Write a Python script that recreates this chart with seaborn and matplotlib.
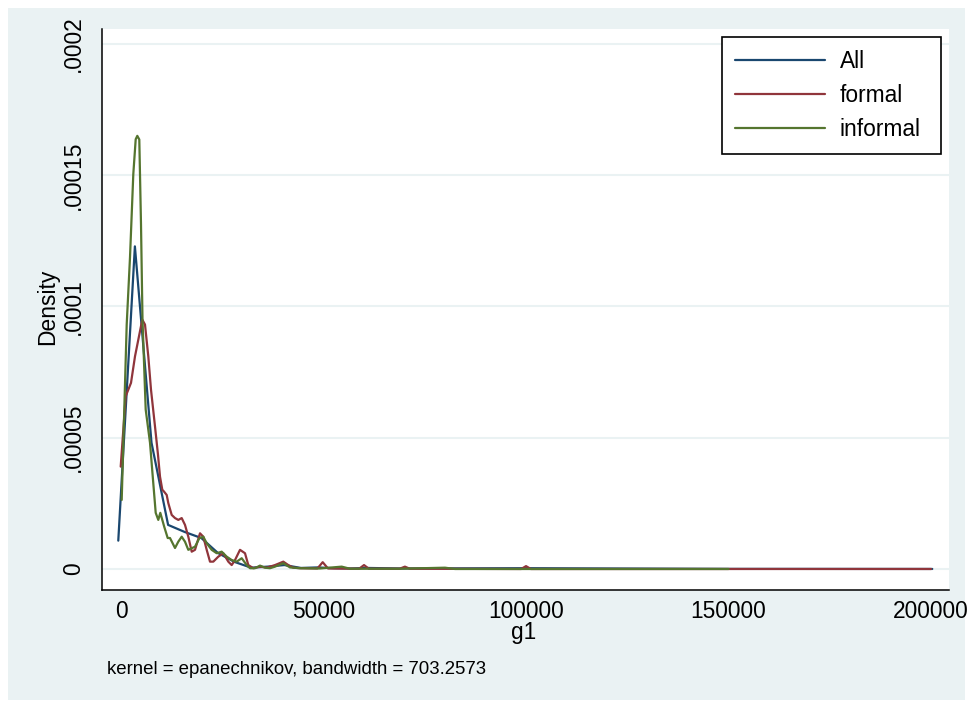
import matplotlib
matplotlib.use("Agg")
import matplotlib.pyplot as plt
from matplotlib.patches import Rectangle
import pandas as pd
import seaborn as sns

# ---- data ----
series_names = ["All", "formal", "informal"]

all_x = [-670, 3430, 7530, 11630, 15730, 19830, 23930, 28030, 32130, 36230,
         40330, 44430, 48530, 52630, 56730, 60830, 69030, 101030, 150000, 200300]
all_y = [1.08e-5, 1.229e-4, 4.81e-5, 1.68e-5, 1.41e-5, 1.18e-5, 6.1e-6, 2.7e-6, 5e-7, 9e-7,
         1.5e-6, 4e-7, 6e-7, 3e-7, 2e-7, 4e-7, 2e-7, 3e-7, 5e-8, 2e-8]

formal_x = [-74, 1160, 2469, 3457, 5259, 5926, 6741, 7407, 8395, 9135, 9629, 10197,
            10617, 11283, 11679, 12518, 13333, 14148, 14987, 15802, 16617, 17456,
            18271, 19506, 20320, 21160, 21975, 22789, 24024, 25259, 26493, 27332,
            28148, 29383, 30617, 31431, 32666, 34319, 35974, 38023, 40072, 41306,
            42540, 44195, 48500, 49800, 51100, 58800, 60000, 61200, 68800, 70100,
            71300, 98800, 100000, 101200, 200000]
formal_y = [3.90e-5, 6.58e-5, 7.09e-5, 8.10e-5, 9.50e-5, 9.31e-5, 8.10e-5, 6.83e-5,
            5.43e-5, 4.35e-5, 3.52e-5, 3.02e-5, 2.95e-5, 2.82e-5, 2.51e-5, 2.06e-5,
            1.94e-5, 1.87e-5, 1.94e-5, 1.68e-5, 1.23e-5, 6.6e-6, 7.3e-6, 1.36e-5,
            1.23e-5, 7.3e-6, 2.8e-6, 2.8e-6, 4.7e-6, 6.0e-6, 2.8e-6, 1.5e-6, 3.4e-6,
            7.3e-6, 6.0e-6, 1.5e-6, 3e-7, 9e-7, 5e-7, 1.5e-6, 2.8e-6, 1.5e-6, 5e-7,
            3e-7, 2e-7, 2.6e-6, 2e-7, 1e-7, 1.5e-6, 1e-7, 1e-7, 9e-7, 1e-7, 0,
            1.1e-6, 0, 0]

informal_x = [173, 1407, 2222, 3037, 3630, 4025, 4518, 4938, 5308, 6099, 7160, 7901,
              8568, 9209, 9703, 10691, 11530, 12098, 13333, 14148, 14987, 15802,
              16617, 17456, 18271, 19333, 20320, 21160, 22394, 23629, 24863, 26098,
              27332, 28567, 29802, 31036, 31851, 33085, 34319, 35554, 36788, 38023,
              40072, 41726, 44195, 49130, 54492, 56542, 68888, 80000, 82465, 150000]
informal_y = [2.63e-5, 9.31e-5, 1.187e-4, 1.504e-4, 1.637e-4, 1.650e-4, 1.636e-4,
              1.313e-4, 9.5e-5, 6.07e-5, 4.81e-5, 3.40e-5, 2.14e-5, 1.87e-5, 2.14e-5,
              1.60e-5, 1.18e-5, 1.18e-5, 8.0e-6, 1.04e-5, 1.23e-5, 1.04e-5, 7.3e-6,
              7.9e-6, 8.5e-6, 1.17e-5, 1.23e-5, 9.8e-6, 7.3e-6, 6.0e-6, 6.6e-6, 4.7e-6,
              3.4e-6, 2.8e-6, 4.1e-6, 1.5e-6, 3e-7, 3e-7, 1.3e-6, 5e-7, 3e-7, 9e-7,
              2.2e-6, 6e-7, 3e-7, 2e-7, 9e-7, 1e-7, 1e-7, 5e-7, 0, 0]

x_ticks = [0, 50000, 100000, 150000, 200000]
x_tick_labels = ["0", "50000", "100000", "150000", "200000"]
y_ticks = [0, 0.00005, 0.0001, 0.00015, 0.0002]
y_tick_labels = ["0", ".00005", ".0001", ".00015", ".0002"]
note_text = "kernel = epanechnikov, bandwidth = 703.2573"

colors = {"All": "#1a476f", "formal": "#90353b", "informal": "#55752f"}

df = pd.concat([
    pd.DataFrame({"g1": all_x, "Density": all_y, "series": "All"}),
    pd.DataFrame({"g1": formal_x, "Density": formal_y, "series": "formal"}),
    pd.DataFrame({"g1": informal_x, "Density": informal_y, "series": "informal"}),
], ignore_index=True)

sns.set_style("white")
plt.rcParams['font.family'] = ['Liberation Sans', 'DejaVu Sans']
plt.rcParams['text.color'] = 'black'

W, H = 973, 707
fig = plt.figure(figsize=(W / 100, H / 100), dpi=100)
fig.patch.set_facecolor("white")
fig.patches.append(Rectangle((8 / W, 7 / H), 957 / W, 692 / H,
                             transform=fig.transFigure, facecolor="#EAF2F3",
                             edgecolor="none", zorder=-10))

ax = fig.add_axes([102 / W, 1 - 590 / H, 847 / W, 561 / H])
ax.set_facecolor("white")

sns.lineplot(data=df, x="g1", y="Density", hue="series", hue_order=series_names,
             palette=colors, estimator=None, sort=False, linewidth=1.6, ax=ax)

ax.set_xlim(-4691, 204433)
ax.set_ylim(-8.0e-6, 2.057e-4)

ax.set_xticks(x_ticks)
ax.set_xticklabels(x_tick_labels)
ax.set_yticks(y_ticks)
ax.set_yticklabels(y_tick_labels, rotation=90, va="center")

ax.tick_params(axis="both", direction="out", length=5, width=1.1, color="black",
               labelsize=16.4, labelcolor="black")
ax.tick_params(axis="x", pad=2)
ax.tick_params(axis="y", pad=7)

ax.yaxis.grid(True, color="#EAF2F3", linewidth=1.5)
ax.xaxis.grid(False)
ax.set_axisbelow(True)

for side in ["top", "right"]:
    ax.spines[side].set_visible(False)
for side in ["left", "bottom"]:
    ax.spines[side].set_color("black")
    ax.spines[side].set_linewidth(1.1)

ax.set_xlabel("")
ax.set_ylabel("")
fig.text(48 / W, 1 - 307 / H, "Density", rotation=90, ha="center", va="center",
         fontsize=16.4, color="black")
fig.text(524 / W, 1 - 633 / H, "g1", ha="center", va="center", fontsize=16.4,
         color="black")
fig.text(107 / W, 1 - 669 / H, note_text, ha="left", va="center", fontsize=13.4,
         color="black")

leg_x0 = (722 - 102) / 847
leg_w = 219 / 847
leg_top = (590 - 37) / 561
sns.move_legend(ax, loc="upper left", bbox_to_anchor=(leg_x0, 0.5, leg_w, leg_top - 0.5),
                mode="expand", title=None, frameon=True, fontsize=16.4,
                handlelength=3.95, handletextpad=0.66, borderpad=0.57,
                labelspacing=0.48, borderaxespad=0, fancybox=False)
leg = ax.get_legend()
leg.get_frame().set_edgecolor("black")
leg.get_frame().set_linewidth(1.2)
leg.get_frame().set_facecolor("white")
leg.get_frame().set_alpha(1)
for line in leg.get_lines():
    line.set_linewidth(1.6)
for t in leg.get_texts():
    t.set_color("black")

fig.savefig("out.png", dpi=100)
